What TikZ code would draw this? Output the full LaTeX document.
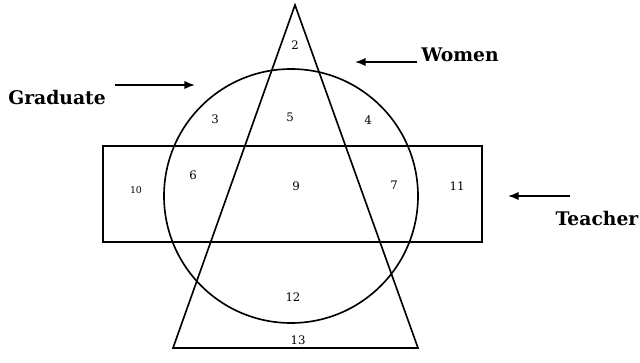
\documentclass[tikz,border=0pt]{standalone}
\usepackage{fontspec}
\setmainfont{DejaVu Serif}
\usetikzlibrary{arrows.meta}

\begin{document}
\begin{tikzpicture}[x=0.03cm, y=-0.03cm,
    setline/.style={line width=1.4pt, color=black},
    num/.style={font=\fontsize{10}{11}\selectfont},
    small/.style={font=\fontsize{8}{9}\selectfont},
    tag/.style={font=\bfseries\fontsize{16}{18}\selectfont},
    arr/.style={-{Latex[length=9pt, width=7pt]}, line width=1.3pt}
]
    \useasboundingbox (0,0) rectangle (640,363);

    % Sets
    \draw[setline] (295,5) -- (173,348) -- (418,348) -- cycle;
    \draw[setline] (291,196) circle [radius=127];
    \draw[setline] (103,146) rectangle (482,242);

    % Regions
    \node[num] (r2) at (295,45) {2};
    \node[num] (r3) at (215,119) {3};
    \node[num] (r5) at (290,117) {5};
    \node[num] (r4) at (368,120) {4};
    \node[num] (r6) at (193,175) {6};
    \node[num] (r9) at (296,186) {9};
    \node[num] (r7) at (394,185) {7};
    \node[small] (r10) at (136,190) {10};
    \node[num] (r11) at (457,186) {11};
    \node[num] (r12) at (293,297) {12};
    \node[num] (r13) at (298,340) {13};

    % Labels
    \node[tag] (grad) at (57,98) {Graduate};
    \node[tag] (women) at (460,55) {Women};
    \node[tag] (teach) at (597,219) {Teacher};

    \coordinate (gradA) at (115,85);
    \coordinate (gradB) at (195,85);
    \coordinate (womenA) at (417,62);
    \coordinate (womenB) at (355,62);
    \coordinate (teachA) at (570,196);
    \coordinate (teachB) at (508,196);

    \draw[arr] (gradA) -- (gradB);
    \draw[arr] (womenA) -- (womenB);
    \draw[arr] (teachA) -- (teachB);
\end{tikzpicture}
\end{document}
